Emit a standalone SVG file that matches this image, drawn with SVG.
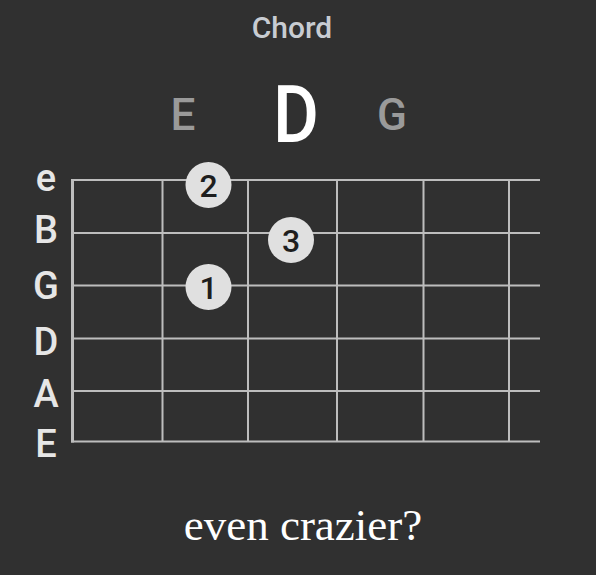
<svg xmlns="http://www.w3.org/2000/svg" width="596" height="575" viewBox="0 0 596 575">
<style>
.str{font-family:Roboto,"Liberation Sans",sans-serif;font-size:38px;font-weight:500;fill:#e6e6e6;text-anchor:middle}
.top{font-family:Roboto,"Liberation Sans",sans-serif;font-size:44px;font-weight:500;fill:#9a9a9a;text-anchor:middle}
.grid line{stroke:#bdbdbd;stroke-width:2}
.dot circle{fill:#e0e0e0}
.dot text{font-family:Roboto,"Liberation Sans",sans-serif;font-size:32px;font-weight:500;fill:#1e1e1e;text-anchor:middle}
</style>
<rect width="596" height="575" fill="#303030"/>
<text x="292" y="38" font-family="Roboto,'Liberation Sans',sans-serif" font-size="30" font-weight="500" fill="#c8ccd2" text-anchor="middle">Chord</text>
<text class="top" x="183" y="130">E</text>
<text x="0" y="0" transform="translate(296 142) scale(0.88 1)" font-family="Roboto,'Liberation Sans',sans-serif" font-size="80" font-weight="500" fill="#ffffff" text-anchor="middle">D</text>
<text class="top" x="392" y="130">G</text>
<g id="strings">
<text class="str" x="46" y="191">e</text>
<text class="str" x="46" y="243">B</text>
<text class="str" x="46" y="299">G</text>
<text class="str" x="46" y="355">D</text>
<text class="str" x="46" y="407">A</text>
<text class="str" x="46" y="457">E</text>
</g>
<g id="connectors" class="grid">
<line x1="71" y1="180" x2="540" y2="180"/>
<line x1="71" y1="233" x2="540" y2="233"/>
<line x1="71" y1="285.5" x2="540" y2="285.5"/>
<line x1="71" y1="338.5" x2="540" y2="338.5"/>
<line x1="71" y1="391" x2="540" y2="391"/>
<line x1="71" y1="441.5" x2="540" y2="441.5"/>
<line x1="72.5" y1="179" x2="72.5" y2="442.5" style="stroke-width:3"/>
<line x1="162.5" y1="180" x2="162.5" y2="441.5"/>
<line x1="248" y1="180" x2="248" y2="441.5"/>
<line x1="337" y1="180" x2="337" y2="441.5"/>
<line x1="423.5" y1="180" x2="423.5" y2="441.5"/>
<line x1="509" y1="180" x2="509" y2="441.5"/>
</g>
<g id="finger2" class="dot"><circle cx="208.5" cy="185" r="23"/><text x="208.5" y="196.5">2</text></g>
<g id="finger3" class="dot"><circle cx="291" cy="240" r="23"/><text x="291" y="251.5">3</text></g>
<g id="finger1" class="dot"><circle cx="208.5" cy="287" r="23"/><text x="208.5" y="298.5">1</text></g>
<text x="303" y="540" font-family="'Liberation Serif',serif" font-size="45" fill="#ffffff" text-anchor="middle">even crazier?</text>
</svg>
